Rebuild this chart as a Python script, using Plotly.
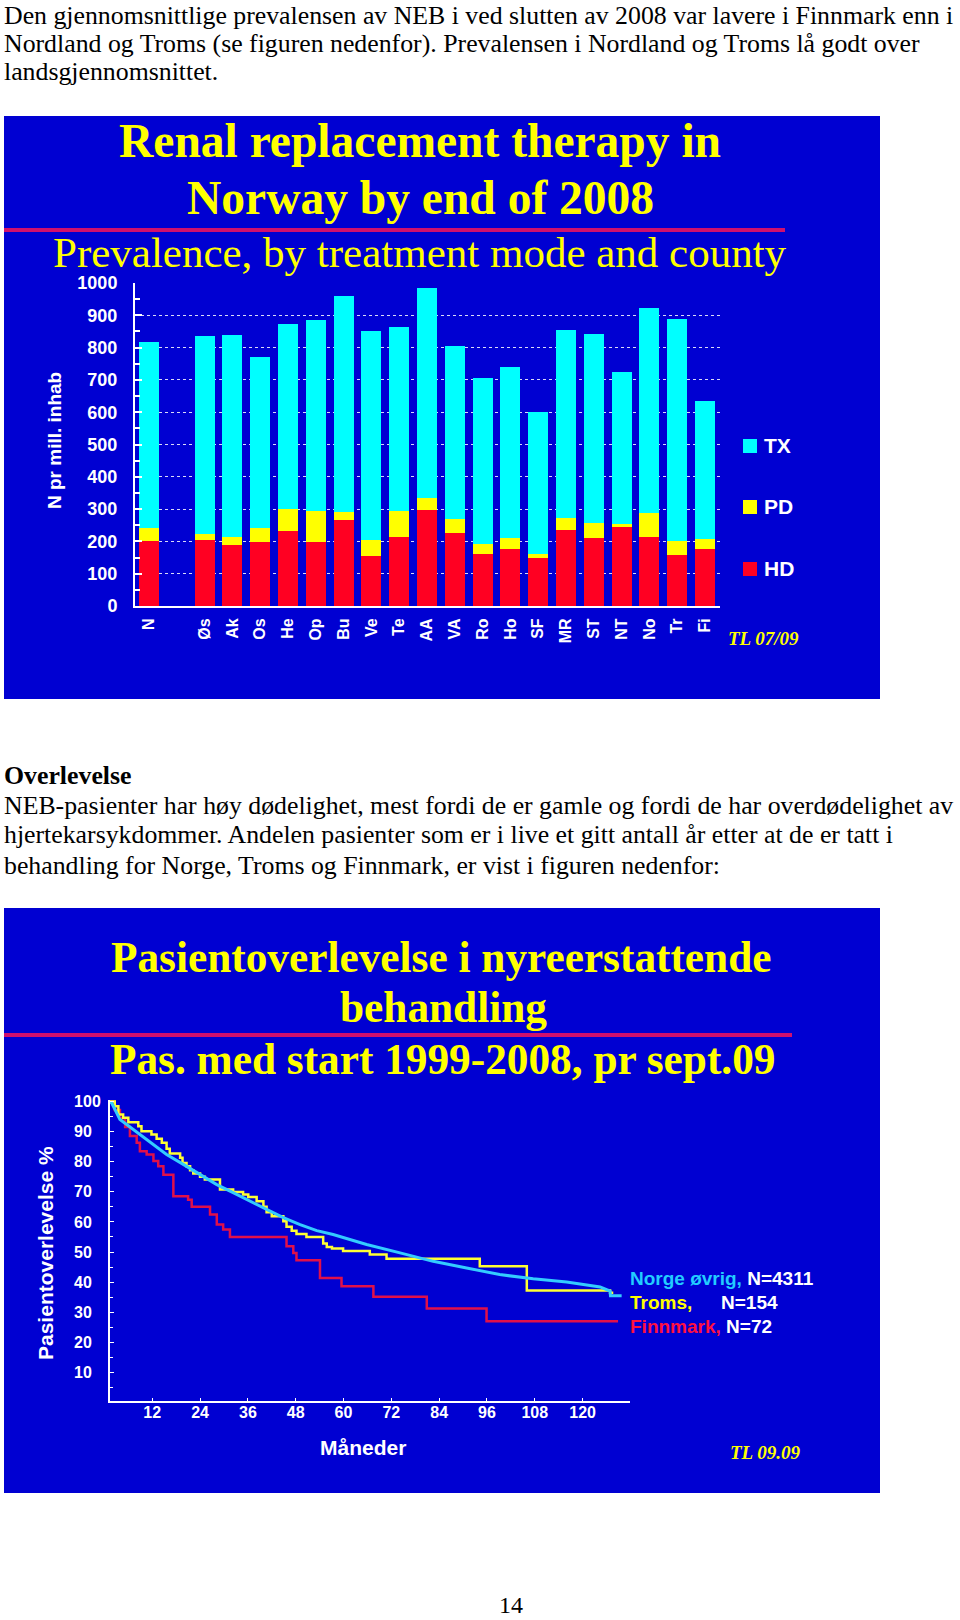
import plotly.graph_objects as go

W, H = 960, 1620


def px(x):
    return x / W


def py(y):
    return 1 - y / H


# ---------------- Bar chart data (N per million inhabitants) ----------------
counties = ["N", "Øs", "Ak", "Os", "He", "Op", "Bu", "Ve", "Te", "AA", "VA",
            "Ro", "Ho", "SF", "MR", "ST", "NT", "No", "Tr", "Fi"]
category_order = ["N", " ", "Øs", "Ak", "Os", "He", "Op", "Bu", "Ve", "Te", "AA", "VA",
                  "Ro", "Ho", "SF", "MR", "ST", "NT", "No", "Tr", "Fi"]
hd = [200, 203, 188, 197, 233, 197, 266, 156, 214, 296, 225,
      160, 177, 148, 235, 212, 245, 214, 158, 176]
pd_ = [42, 19, 25, 45, 67, 96, 25, 48, 79, 39, 43,
       33, 34, 12, 38, 46, 8, 74, 42, 30]
tx = [574, 614, 626, 530, 572, 592, 669, 646, 572, 650, 537,
      514, 530, 442, 581, 583, 470, 634, 688, 430]
bar_yticks = [0, 100, 200, 300, 400, 500, 600, 700, 800, 900, 1000]
legend_labels = ["TX", "PD", "HD"]

# ---------------- Survival data (months, % surviving) ----------------
norge_months = [0, 1.8, 3.9, 7.2, 11.4, 15.6, 19.8, 24.0, 28.2, 32.3, 36.5, 40.7, 44.9,
                49.1, 53.3, 57.4, 65.8, 74.2, 82.5, 90.9, 99.2, 107.6, 116.0, 124.4,
                126.9, 127.0, 129.8]
norge_surv = [100, 99.6, 94.0, 90.7, 86.3, 82.4, 79.1, 75.7, 72.4, 69.7, 66.9, 64.1, 61.4,
              59.1, 57.1, 55.8, 52.5, 49.7, 46.9, 44.7, 42.5, 41.1, 40.0, 38.4,
              37.0, 35.5, 35.5]

troms_months = [0, 2.6, 3.5, 4.7, 6.0, 8.5, 9.3, 11.8, 13.1, 14.4, 15.6, 16.4, 19.0, 19.6,
                20.6, 21.5, 22.3, 24.0, 25.2, 29.0, 32.3, 34.8, 36.1, 38.2, 39.9, 40.7,
                42.0, 44.9, 45.7, 47.0, 48.2, 50.7, 54.9, 55.8, 57.1, 59.9, 66.6, 70.8,
                94.2, 106.0, 126.9, 127.7]
troms_surv = [100, 98.4, 95.7, 94.6, 93.1, 91.8, 90.1, 89.0, 87.6, 86.3, 84.3, 82.7, 81.3, 79.6,
              78.5, 77.2, 76.1, 75.0, 74.1, 70.8, 69.9, 69.1, 68.3, 66.9, 65.0, 63.2,
              61.9, 60.2, 58.4, 57.1, 56.0, 55.0, 52.8, 51.7, 51.2, 50.3, 49.2, 47.8,
              45.3, 37.2, 36.5, 36.5]

finn_months = [0, 2.6, 3.9, 5.2, 6.4, 8.1, 8.9, 10.6, 12.3, 13.5, 14.8, 17.3, 21.0, 21.9,
               26.5, 28.2, 29.8, 31.5, 45.7, 47.4, 48.2, 54.1, 59.5, 67.5, 80.9, 95.9, 128.9]
finn_surv = [100, 97.2, 94.4, 91.5, 88.5, 86.3, 83.5, 82.4, 80.2, 78.5, 75.7, 68.5, 67.4, 65.0,
             62.5, 59.1, 57.5, 55.0, 51.9, 49.7, 47.3, 41.4, 38.6, 35.1, 31.2, 27.0, 27.0]
surv_yticks = [10, 20, 30, 40, 50, 60, 70, 80, 90, 100]
surv_xticks = [12, 24, 36, 48, 60, 72, 84, 96, 108, 120]

# ---------------- Colours / fonts ----------------
BLUE = "#0000D2"
YEL = "#FFFF00"
MAG = "#D0106E"
C_HD = "#FF0022"
C_PD = "#FFFF00"
C_TX = "#00FFFF"
C_NO = "#33CCFF"
C_TR = "#FFFF33"
C_FI = "#E0104A"
SANS = "Liberation Sans, Arial, sans-serif"
SERIF = "Liberation Serif, Times New Roman, serif"
NB = "\u00a0"
BODY = 25.8

fig = go.Figure()

# Stacked bars
fig.add_trace(go.Bar(x=counties, y=hd, name="HD", marker=dict(color=C_HD, line=dict(width=0)),
                     xaxis="x", yaxis="y", showlegend=False))
fig.add_trace(go.Bar(x=counties, y=pd_, name="PD", marker=dict(color=C_PD, line=dict(width=0)),
                     xaxis="x", yaxis="y", showlegend=False))
fig.add_trace(go.Bar(x=counties, y=tx, name="TX", marker=dict(color=C_TX, line=dict(width=0)),
                     xaxis="x", yaxis="y", showlegend=False))

# Survival curves
fig.add_trace(go.Scatter(x=finn_months, y=finn_surv, mode="lines", line=dict(color=C_FI, width=2.5, shape="hv"),
                         xaxis="x2", yaxis="y2", showlegend=False, name="Finnmark"))
fig.add_trace(go.Scatter(x=troms_months, y=troms_surv, mode="lines", line=dict(color=C_TR, width=2.5, shape="hv"),
                         xaxis="x2", yaxis="y2", showlegend=False, name="Troms"))
fig.add_trace(go.Scatter(x=norge_months, y=norge_surv, mode="lines", line=dict(color=C_NO, width=3),
                         xaxis="x2", yaxis="y2", showlegend=False, name="Norge øvrig"))

shapes = [
    dict(type="rect", xref="paper", yref="paper", x0=px(4), x1=px(880), y0=py(699), y1=py(116),
         fillcolor=BLUE, line=dict(width=0), layer="below"),
    dict(type="rect", xref="paper", yref="paper", x0=px(4), x1=px(880), y0=py(1493), y1=py(908),
         fillcolor=BLUE, line=dict(width=0), layer="below"),
    dict(type="line", xref="paper", yref="paper", x0=px(4), x1=px(785), y0=py(230), y1=py(230),
         line=dict(color=MAG, width=4), layer="below"),
    dict(type="line", xref="paper", yref="paper", x0=px(4), x1=px(792), y0=py(1035), y1=py(1035),
         line=dict(color=MAG, width=4), layer="below"),
]


def ann(text, x, y, size, color="black", family=SERIF, xanchor="left", weight="normal",
        style="normal", angle=0, yanchor="middle"):
    return dict(text=text, x=px(x), y=py(y), xref="paper", yref="paper", showarrow=False,
                xanchor=xanchor, yanchor=yanchor, textangle=angle, borderpad=0,
                font=dict(size=size, color=color, family=family, weight=weight, style=style))


annotations = [
    ann("Den gjennomsnittlige prevalensen av NEB i ved slutten av 2008 var lavere i Finnmark enn i", 3, 0, BODY,
        yanchor="top"),
    ann("Nordland og Troms (se figuren nedenfor). Prevalensen i Nordland og Troms lå godt over", 3, 43, BODY),
    ann("landsgjennomsnittet.", 3, 72, BODY),
    ann("Overlevelse", 3, 775, BODY, weight="bold"),
    ann("NEB-pasienter har høy dødelighet, mest fordi de er gamle og fordi de har overdødelighet av", 3, 805, BODY),
    ann("hjertekarsykdommer. Andelen pasienter som er i live et gitt antall år etter at de er tatt i", 3, 835, BODY),
    ann("behandling for Norge, Troms og Finnmark, er vist i figuren nedenfor:", 3, 865, BODY),
    ann("14", 511, 1605, 24, xanchor="center"),
    # Panel 1
    ann("Renal replacement therapy in", 420, 141, 47.5, YEL, weight="bold", xanchor="center"),
    ann("Norway by end of 2008", 420, 198, 47.5, YEL, weight="bold", xanchor="center"),
    ann("Prevalence, by treatment mode and county", 420, 252, 43, YEL, xanchor="center"),
    ann("N pr mill. inhab", 55, 441, 19, "white", SANS, "center", "bold", angle=-90),
    ann("TL 07/09", 763, 638, 19, YEL, weight="bold", style="italic", xanchor="center"),
    # Panel 2
    ann("Pasientoverlevelse i nyreerstattende", 441, 957, 43.3, YEL, weight="bold", xanchor="center"),
    ann("behandling", 443, 1007, 43.3, YEL, weight="bold", xanchor="center"),
    ann("Pas. med start 1999-2008, pr sept.09", 442, 1059, 43.3, YEL, weight="bold", xanchor="center"),
    ann("Pasientoverlevelse %", 45, 1253, 21, "white", SANS, "center", "bold", angle=-90),
    ann("Måneder", 363, 1447, 21, "white", SANS, "center", "bold"),
    ann("<span style='color:%s'>Norge øvrig,</span> N=4311" % "#22CCFF", 629, 1278, 19, "white", SANS, weight="bold"),
    ann("<span style='color:%s'>Troms,</span>" % YEL, 629, 1302, 19, "white", SANS, weight="bold"),
    ann("N=154", 720, 1302, 19, "white", SANS, weight="bold"),
    ann("<span style='color:%s'>Finnmark,</span> N=72" % "#FF1040", 629, 1326, 19, "white", SANS, weight="bold"),
    ann("TL 09.09", 765, 1452, 19, YEL, weight="bold", style="italic", xanchor="center"),
]

# Legend for the bar chart (squares + labels)
legend_colors = [C_TX, C_PD, C_HD]
legend_ys = [446, 507, 569]
for lab, col, ly in zip(legend_labels, legend_colors, legend_ys):
    shapes.append(dict(type="rect", xref="paper", yref="paper", x0=px(743), x1=px(757),
                       y0=py(ly + 7), y1=py(ly - 7), fillcolor=col, line=dict(width=0)))
    annotations.append(ann(lab, 763, ly, 21, "white", SANS, weight="bold"))

axis_font = dict(family=SANS, color="white", weight="bold")
surv_ticktext = [(str(v) + NB * 2) if v < 100 else str(v) for v in surv_yticks]

fig.update_layout(
    width=W, height=H,
    margin=dict(l=0, r=0, t=0, b=0, autoexpand=False),
    paper_bgcolor="white",
    plot_bgcolor="rgba(0,0,0,0)",
    barmode="stack",
    bargap=0.28,
    showlegend=False,
    shapes=shapes,
    annotations=annotations,
    xaxis=dict(domain=[px(135), px(720)], type="category", categoryorder="array",
               categoryarray=category_order, range=[-0.5, 20.54], tickangle=-90,
               tickfont=dict(size=16, **axis_font), showline=True, linecolor="white",
               linewidth=2, ticks="", showgrid=False, zeroline=False, fixedrange=True,
               anchor="y", ticklabelstandoff=4, automargin=False),
    yaxis=dict(domain=[py(606), py(283)], range=[0, 1000], tickvals=bar_yticks,
               tickfont=dict(size=18, **axis_font), showline=True, linecolor="white",
               linewidth=2, ticks="inside", ticklen=7, tickwidth=2, tickcolor="white",
               minor=dict(ticks="inside", ticklen=5, dtick=50, tickcolor="white", tickwidth=2, showgrid=False),
               showgrid=True, griddash="dot", gridcolor="rgba(255,255,255,0.85)", gridwidth=1,
               zeroline=False, fixedrange=True, anchor="x", ticklabelstandoff=12, automargin=False),
    xaxis2=dict(domain=[px(110), px(630)], range=[1.4, 131.9], tickvals=surv_xticks,
                tickfont=dict(size=16, **axis_font), showline=True, linecolor="white",
                linewidth=2, ticks="inside", ticklen=3, tickcolor="white", showgrid=False,
                zeroline=False, fixedrange=True, anchor="y2", automargin=False,
                ticklabelstandoff=-4),
    yaxis2=dict(domain=[py(1401), py(1100)], range=[0.5, 100.5], tickvals=surv_yticks,
                ticktext=surv_ticktext,
                tickfont=dict(size=16, **axis_font), showline=True, linecolor="white",
                linewidth=2, ticks="inside", ticklen=4, tickcolor="white",
                minor=dict(ticks="inside", ticklen=3, dtick=5, tickcolor="white", showgrid=False),
                showgrid=False, zeroline=False, fixedrange=True, anchor="x2",
                ticklabelstandoff=4, automargin=False),
)

fig.write_html("out.html", post_script="document.body.style.margin='0';",
               config={"displayModeBar": False})
